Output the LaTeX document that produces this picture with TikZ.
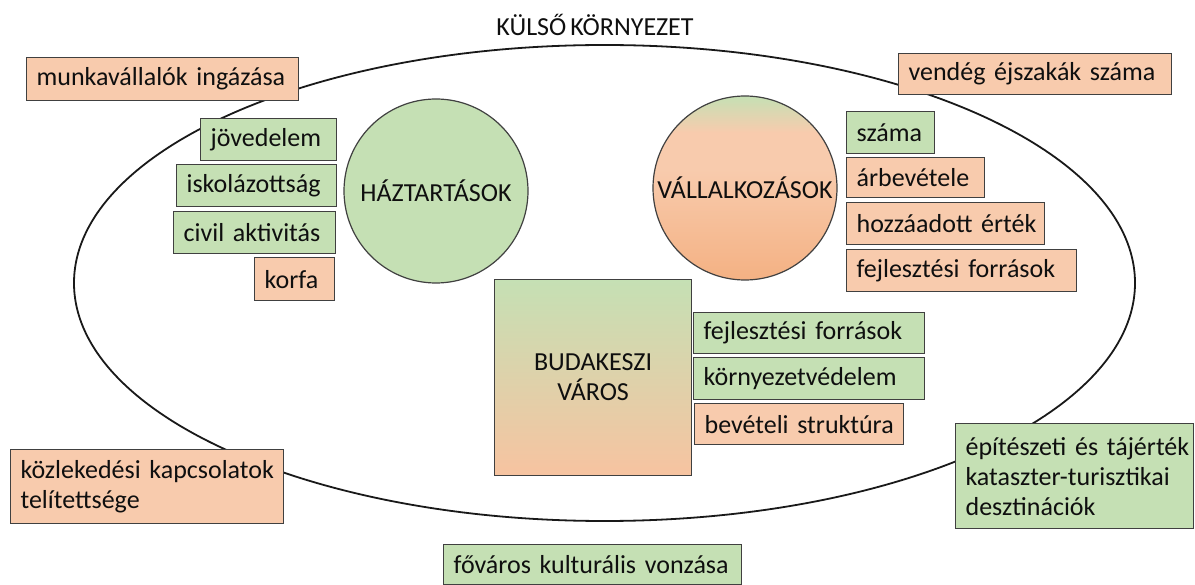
\documentclass[tikz,border=0pt]{standalone}
\usepackage{fontspec}
\setmainfont{Carlito}[WordSpace=0.7]
\definecolor{grn}{RGB}{197,224,180}
\definecolor{org}{RGB}{248,203,173}
\definecolor{orgD}{RGB}{244,177,131}
\definecolor{bord}{RGB}{64,64,64}
\definecolor{txt}{RGB}{15,15,15}
\pgfdeclareverticalshading{vallsh}{100bp}{color(0bp)=(orgD); color(25bp)=(orgD); color(55bp)=(org); color(65bp)=(org); color(75bp)=(grn); color(100bp)=(grn)}
\begin{document}
\begin{tikzpicture}[x=1pt,y=-1pt,
  every node/.style={text=txt},
  box/.style={draw=bord, line width=1.2pt, anchor=north west, inner xsep=10pt, inner ysep=2pt, align=left, font=\fontsize{26}{30}\selectfont},
  gbox/.style={box, fill=grn},
  obox/.style={box, fill=org},
  bigtext/.style={font=\fontsize{26}{30}\selectfont}]
\useasboundingbox (0,0) rectangle (1195,585);
% outer environment
\draw[line width=1.8pt, black!90] (604.5,283) ellipse [x radius=530.5, y radius=238];
\node[bigtext] (title) at (595,25) {KÜLSŐ KÖRNYEZET};
% circles
\node[circle, draw=bord, line width=1.2pt, fill=grn, minimum size=184, inner sep=0pt, bigtext] (haz) at (436,191) {HÁZTARTÁSOK};
\node[circle, draw=bord, line width=1.2pt, shading=vallsh, minimum size=184, inner sep=0pt, bigtext] (vall) at (745,188) {VÁLLALKOZÁSOK};
% city
\node[draw=bord, line width=1.2pt, top color=grn, bottom color=org!70!orgD, minimum width=197, minimum height=196, anchor=north west, align=center, bigtext] (bud) at (494,279) {BUDAKESZI\\VÁROS};
% boxes
\node[obox, text width=252, minimum height=43] (munka) at (26,57) {\mbox{munkavállalók ingázása}};
\node[obox, text width=253, minimum height=41] (vendeg) at (898,53) {\mbox{vendég éjszakák száma}};
\node[gbox, text width=116, minimum height=42] (jov) at (200,118) {jövedelem};
\node[gbox, text width=140, minimum height=42] (isk) at (176,164) {iskolázottság};
\node[gbox, text width=142, minimum height=42] (civil) at (173,211) {\mbox{civil aktivitás}};
\node[obox, text width=60, minimum height=43] (korfa) at (254,257) {korfa};
\node[gbox, text width=68, minimum height=42] (szama) at (846,111) {száma};
\node[obox, text width=118, minimum height=40] (arbev) at (846,157) {árbevétele};
\node[obox, text width=178, minimum height=42] (hozza) at (846,202) {\mbox{hozzáadott érték}};
\node[obox, text width=210, minimum height=42] (fejlV) at (846,249) {\mbox{fejlesztési források}};
\node[gbox, text width=211, minimum height=41] (fejlB) at (693,312) {\mbox{fejlesztési források}};
\node[gbox, text width=211, minimum height=42] (korny) at (693,357) {környezetvédelem};
\node[obox, text width=189, minimum height=41] (bevet) at (694,403) {\mbox{bevételi struktúra}};
\node[obox, text width=253, minimum height=74] (kozl) at (10,449) {\mbox{közlekedési kapcsolatok}\\telítettsége};
\node[gbox, text width=218, minimum height=105] (epit) at (955,423) {\mbox{építészeti és tájérték}\\\mbox{kataszter-turisztikai}\\desztinációk};
\node[gbox, text width=278, minimum height=40] (fovaros) at (443,544) {\mbox{főváros kulturális vonzása}};
\end{tikzpicture}
\end{document}
